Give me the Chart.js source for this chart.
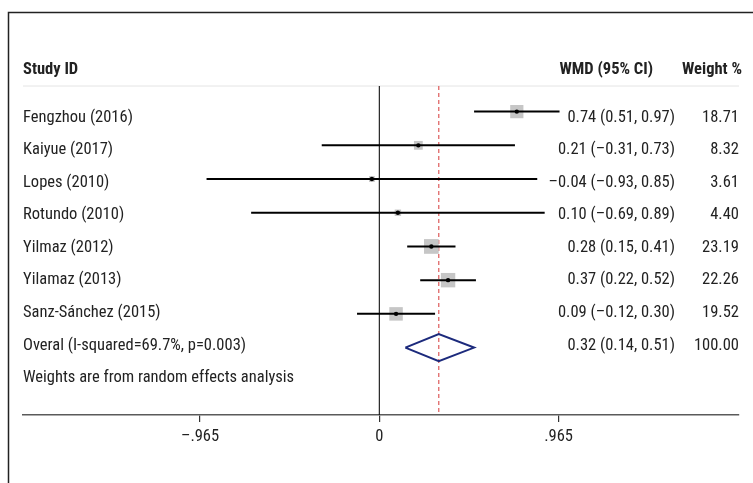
<!DOCTYPE html>
<html>
<head>
<meta charset="utf-8">
<script src="https://cdn.jsdelivr.net/npm/chart.js@4/dist/chart.umd.min.js"></script>
<style>
  html, body { margin: 0; padding: 0; background: #ffffff; }
  #wrap { position: relative; width: 753px; height: 483px; }
</style>
</head>
<body>
<div id="wrap"><canvas id="c"></canvas></div>
<script>
// ---- data ----
const studies = ["Fengzhou (2016)", "Kaiyue (2017)", "Lopes (2010)", "Rotundo (2010)",
                 "Yilmaz (2012)", "Yilamaz (2013)", "Sanz-Sánchez (2015)"];
const wmd     = [0.74, 0.21, -0.04, 0.10, 0.28, 0.37, 0.09];
const ciLow   = [0.51, -0.31, -0.93, -0.69, 0.15, 0.22, -0.12];
const ciHigh  = [0.97, 0.73, 0.85, 0.89, 0.41, 0.52, 0.30];
const weights = [18.71, 8.32, 3.61, 4.40, 23.19, 22.26, 19.52];
const overallLabel = "Overal (I-squared=69.7%, p=0.003)";
const overall = { est: 0.32, low: 0.14, high: 0.51, weight: 100.00 };
const footnote = "Weights are from random effects analysis";
const headers = ["Study ID", "WMD (95% CI)", "Weight %"];
const xTickValues = [-0.965, 0, 0.965];
const xTickLabels = ["\u2013.965", "0", ".965"];

// ---- helpers ----
const fmt = v => (v < 0 ? "\u2013" : "") + Math.abs(v).toFixed(2);
const ciText = (e, l, h) => `${fmt(e)} (${fmt(l)}, ${fmt(h)})`;
const X_MIN = -1.918, X_MAX = 1.936, Y_MIN = 0.24, Y_MAX = 10;
const nStudies = studies.length;
const overallRow = nStudies + 1;

// pick a condensed face if one is installed, else Roboto drawn slightly condensed
const TXT = (() => {
  const m = document.createElement('canvas').getContext('2d');
  const probe = "Fengzhou (2016) WMD";
  const has = f => {
    m.font = `100px monospace`; const a = m.measureText(probe).width;
    m.font = `100px '${f}', monospace`; const b = m.measureText(probe).width;
    return Math.abs(a - b) > 0.5;
  };
  for (const f of ['Roboto Condensed', 'Liberation Sans Narrow', 'Arial Narrow']) {
    if (has(f)) {
      m.font = `100px '${f}'`;
      const size = 100 * 110 / m.measureText(studies[0]).width;
      return { family: `'${f}', sans-serif`, size, hs: 1, cap: 0.715 };
    }
  }
  const size = 17;
  m.font = `${size}px Roboto`;
  return { family: "Roboto, sans-serif", size, hs: 110 / m.measureText(studies[0]).width, cap: 0.711 };
})();

const datasets = [];
// header separator line
datasets.push({ type: 'line', data: [{x: X_MIN, y: Y_MIN}, {x: X_MAX, y: Y_MIN}],
  borderColor: '#e4e4e4', borderWidth: 1, pointRadius: 0, order: 10, clip: false });
// line of no effect
datasets.push({ type: 'line', data: [{x: 0, y: Y_MIN}, {x: 0, y: Y_MAX}],
  borderColor: '#111111', borderWidth: 1.1, pointRadius: 0, order: 9, clip: false });
// overall effect dashed line
datasets.push({ type: 'line', data: [{x: overall.est, y: Y_MIN}, {x: overall.est, y: Y_MAX}],
  borderColor: '#dd5a5a', borderWidth: 1.2, borderDash: [4, 3], pointRadius: 0, order: 8, clip: false });
// weight boxes
datasets.push({ type: 'scatter', data: wmd.map((v, i) => ({x: v, y: i + 1})),
  pointStyle: 'rect', pointRadius: weights.map(w => 2.16 * Math.sqrt(w)),
  backgroundColor: '#c6c6c6', borderWidth: 0, order: 7 });
// confidence intervals
studies.forEach((s, i) => {
  datasets.push({ type: 'line', data: [{x: ciLow[i], y: i + 1}, {x: ciHigh[i], y: i + 1}],
    borderColor: '#000000', borderWidth: 2, pointRadius: 0, order: 5, clip: false });
});
// point estimates
datasets.push({ type: 'scatter', data: wmd.map((v, i) => ({x: v, y: i + 1})),
  pointStyle: 'circle', pointRadius: 2.2, backgroundColor: '#000000', borderWidth: 0, order: 1 });
// overall diamond
datasets.push({ type: 'line', data: [
    {x: overall.low, y: overallRow}, {x: overall.est, y: overallRow - 0.4},
    {x: overall.high, y: overallRow}, {x: overall.est, y: overallRow + 0.4},
    {x: overall.low, y: overallRow}],
  borderColor: '#1c2a7c', borderWidth: 2, pointRadius: 0, fill: false, tension: 0,
  borderJoinStyle: 'miter', order: 2, clip: false });

function drawText(ctx, str, x, y, align, extra = 1) {
  ctx.save();
  ctx.translate(x, y);
  ctx.scale(Math.min(1, TXT.hs * extra), 1);
  ctx.textAlign = align;
  ctx.fillText(str, 0, 0);
  ctx.restore();
}

// text rows drawn from the data arrays
const textRowValue = r => 1.128 + (r - 1) * 0.965;
const textPlugin = {
  id: 'forestText',
  beforeDraw(chart) {
    const ctx = chart.ctx;
    ctx.save();
    ctx.strokeStyle = '#222222';
    ctx.lineWidth = 1.5;
    ctx.beginPath();
    ctx.moveTo(8.5, chart.height + 2);
    ctx.lineTo(8.5, 12.5);
    ctx.lineTo(chart.width + 2, 12.5);
    ctx.stroke();
    ctx.restore();
  },
  afterDraw(chart) {
    const ctx = chart.ctx, ys = chart.scales.y, area = chart.chartArea;
    const left = area.left, colWmd = area.right - 64, colW = area.right;
    const baseY = v => ys.getPixelForValue(v) + TXT.size * TXT.cap / 2;
    ctx.save();
    ctx.fillStyle = '#222222';
    ctx.textBaseline = 'alphabetic';
    // headers
    ctx.font = `bold ${TXT.size}px ${TXT.family}`;
    const hy = baseY(-0.304);
    drawText(ctx, headers[0], left, hy, 'left', 1.12);
    drawText(ctx, headers[1], colWmd - 22, hy, 'right', 1.12);
    drawText(ctx, headers[2], colW - 57, hy, 'left', 1.12);
    // study rows
    ctx.font = `${TXT.size}px ${TXT.family}`;
    studies.forEach((s, i) => {
      const y = baseY(textRowValue(i + 1));
      drawText(ctx, s, left, y, 'left');
      drawText(ctx, ciText(wmd[i], ciLow[i], ciHigh[i]), colWmd, y, 'right');
      drawText(ctx, weights[i].toFixed(2), colW, y, 'right');
    });
    const oy = baseY(textRowValue(overallRow));
    drawText(ctx, overallLabel, left, oy, 'left');
    drawText(ctx, ciText(overall.est, overall.low, overall.high), colWmd, oy, 'right');
    drawText(ctx, overall.weight.toFixed(2), colW, oy, 'right');
    drawText(ctx, footnote, left, baseY(textRowValue(overallRow + 1)), 'left');
    ctx.restore();
  }
};

new Chart(document.getElementById('c'), {
  data: { datasets },
  options: {
    responsive: true,
    maintainAspectRatio: false,
    animation: false,
    events: [],
    layout: { padding: { left: 23, right: 14, top: 86, bottom: 0 } },
    plugins: { legend: { display: false }, tooltip: { enabled: false } },
    scales: {
      x: {
        type: 'linear', min: X_MIN, max: X_MAX, position: 'bottom',
        afterBuildTicks: s => { s.ticks = xTickValues.map(v => ({ value: v })); },
        afterFit: s => { s.height = 68; },
        ticks: {
          autoSkip: false, maxRotation: 0, padding: 5, color: '#222222',
          font: { family: TXT.family, size: TXT.hs < 1 ? 15.5 : TXT.size },
          callback: (v) => { const k = xTickValues.indexOf(v); return k >= 0 ? xTickLabels[k] : ''; }
        },
        grid: { drawOnChartArea: false, drawTicks: true, tickLength: 7, color: '#333333', lineWidth: 1.2 },
        border: { display: true, color: '#5a5a5a', width: 1.5 }
      },
      y: { type: 'linear', reverse: true, min: Y_MIN, max: Y_MAX, display: false }
    }
  },
  plugins: [textPlugin]
});
</script>
</body>
</html>
